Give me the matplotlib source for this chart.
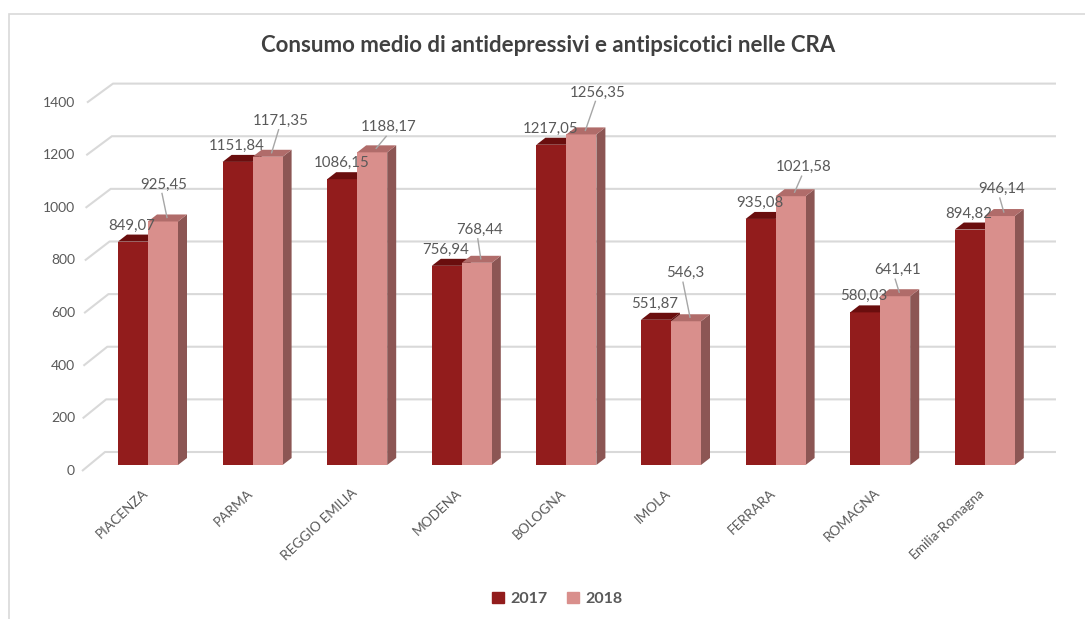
import numpy as np
from matplotlib import pyplot as plt
from matplotlib.patches import Polygon, Rectangle, Patch
from matplotlib.transforms import ScaledTranslation

regioni = ["PIACENZA", "PARMA", "REGGIO EMILIA", "MODENA", "BOLOGNA",
           "IMOLA", "FERRARA", "ROMAGNA", "Emilia-Romagna"]
consumo_2017 = [849.07, 1151.84, 1086.15, 756.94, 1217.05, 551.87, 935.08, 580.03, 894.82]
consumo_2018 = [925.45, 1171.35, 1188.17, 768.44, 1256.35, 546.3, 1021.58, 641.41, 946.14]
anni = ["2017", "2018"]
tick_y = [0, 200, 400, 600, 800, 1000, 1200, 1400]

# spostamento (px) delle etichette 2018 rispetto allo spigolo alto della colonna
off_lab_2018 = [(1, 37), (13, 36), (16, 25), (3, 33), (16, 42),
                (-1, 48), (13, 29), (2, 26), (2, 27)]

plt.rcParams['font.family'] = ['Lato', 'DejaVu Sans']

GRIGIO = '#595959'
GRIGLIA = '#D9D9D9'
c_scuro = {'fronte': '#921C1C', 'sopra': '#6A0E0E', 'lato': '#5A1010'}
c_rosa = {'fronte': '#D98F8C', 'sopra': '#B06C6A', 'lato': '#8C5654'}

W, H = 1085, 619
fig = plt.figure(figsize=(W / 100, H / 100), dpi=100)

# area del grafico: piano frontale in pixel
ax_l, ax_r = 95.7, 1037.1
ax_bot, ax_top = 465.0, 96.6
ax = fig.add_axes([ax_l / W, 1 - ax_bot / H, (ax_r - ax_l) / W, (ax_bot - ax_top) / H])
ax.set_xlim(-0.5, len(regioni) - 0.5)
ax.set_ylim(0, 1400)
ax.axis('off')

px_x = (ax_r - ax_l) / (len(regioni))   # pixel per unita' x
px_y = (ax_bot - ax_top) / 1400.0       # pixel per unita' y


def sposta(dx, dy):
    # trasformazione dati + traslazione in pixel
    return ax.transData + ScaledTranslation(dx / 100, dy / 100, fig.dpi_scale_trans)


def fmt(v):
    return ('%g' % v).replace('.', ',')


# griglia sulla parete di fondo e sulla parete laterale
x0 = ax.get_xlim()[0]
x1 = ax.get_xlim()[1]
for v in tick_y:
    t = v / 1400.0
    xb = x0 + (105 + 8 * t - ax_l) / px_x
    xf = x0 + (82 + 5 * t - ax_l) / px_x
    xe = x1 + (1056 - ax_r) / px_x
    yb = v + 13 / px_y
    yf = v - 6 / px_y
    ax.plot([xf, xb, xe], [yf, yb, yb], color=GRIGLIA, lw=1.5,
            clip_on=False, zorder=1, solid_capstyle='butt')
    ax.text(x0 + (75 - ax_l) / px_x, v - 6 / px_y, str(v), ha='right', va='center',
            fontsize=10, color=GRIGIO, clip_on=False)

# colonne 3D
larg = 30 / px_x
pdx = 9 / px_x
pdy = 7 / px_y
x = np.arange(len(regioni))
z = 3
for i in range(len(regioni)):
    for j, (vals, col) in enumerate([(consumo_2017, c_scuro), (consumo_2018, c_rosa)]):
        h = vals[i]
        xl = x[i] - larg + j * larg
        xr = xl + larg
        ax.add_patch(Polygon([(xr, 0), (xr, h), (xr + pdx, h + pdy), (xr + pdx, pdy)],
                             closed=True, fc=col['lato'], ec='none', zorder=z))
        ax.bar(xl, h, width=larg, align='edge', color=col['fronte'], zorder=z + 1)
        ax.add_patch(Polygon([(xl, h), (xr, h), (xr + pdx, h + pdy), (xl + pdx, h + pdy)],
                             closed=True, fc=col['sopra'], ec='none', zorder=z + 2))
        z += 3

# etichette dei valori
for i in range(len(regioni)):
    xc = x[i] - larg / 2
    ax.text(xc, consumo_2017[i], fmt(consumo_2017[i]), ha='center', va='center',
            fontsize=10.8, color=GRIGIO, zorder=200,
            transform=sposta(-1, 16))
    xc2 = x[i] + larg / 2
    dx, dy = off_lab_2018[i]
    ax.text(xc2, consumo_2018[i], fmt(consumo_2018[i]), ha='center', va='center',
            fontsize=10.8, color=GRIGIO, zorder=200,
            transform=sposta(dx, dy))
    # linea guida dall'etichetta alla colonna
    ax.plot([xc2 + (dx - 2) / px_x, xc2 + 4 / px_x],
            [consumo_2018[i] + (dy - 9) / px_y, consumo_2018[i] + 4 / px_y],
            color='#A6A6A6', lw=1, zorder=199, clip_on=False)

# etichette delle categorie
for i, nome in enumerate(regioni):
    ax.text(x[i], 0, nome, rotation=43, ha='right', va='center',
            rotation_mode='anchor', fontsize=9.8, color=GRIGIO,
            transform=sposta(-2, -26), clip_on=False)

fig.text(0.505, 1 - 45 / H, 'Consumo medio di antidepressivi e antipsicotici nelle CRA',
         ha='center', va='center', fontsize=16, fontweight='bold', color='#404040')

maniglie = [Patch(color=c_scuro['fronte']), Patch(color=c_rosa['fronte'])]
leg = fig.legend(maniglie, anni, loc='center', bbox_to_anchor=(557 / W, 1 - 599 / H),
                 ncol=2, frameon=False, handlelength=0.75, handleheight=0.75,
                 handletextpad=0.4, columnspacing=1.2,
                 prop={'size': 11.5, 'weight': 'bold'})
for t in leg.get_texts():
    t.set_color(GRIGIO)

# bordo dell'area del grafico
fig.add_artist(Rectangle((9 / W, -0.05), 1.1, 1 - 14 / H + 0.05, transform=fig.transFigure,
                         fill=False, ec=GRIGLIA, lw=1.2))

fig.savefig('out.png', dpi=100)
